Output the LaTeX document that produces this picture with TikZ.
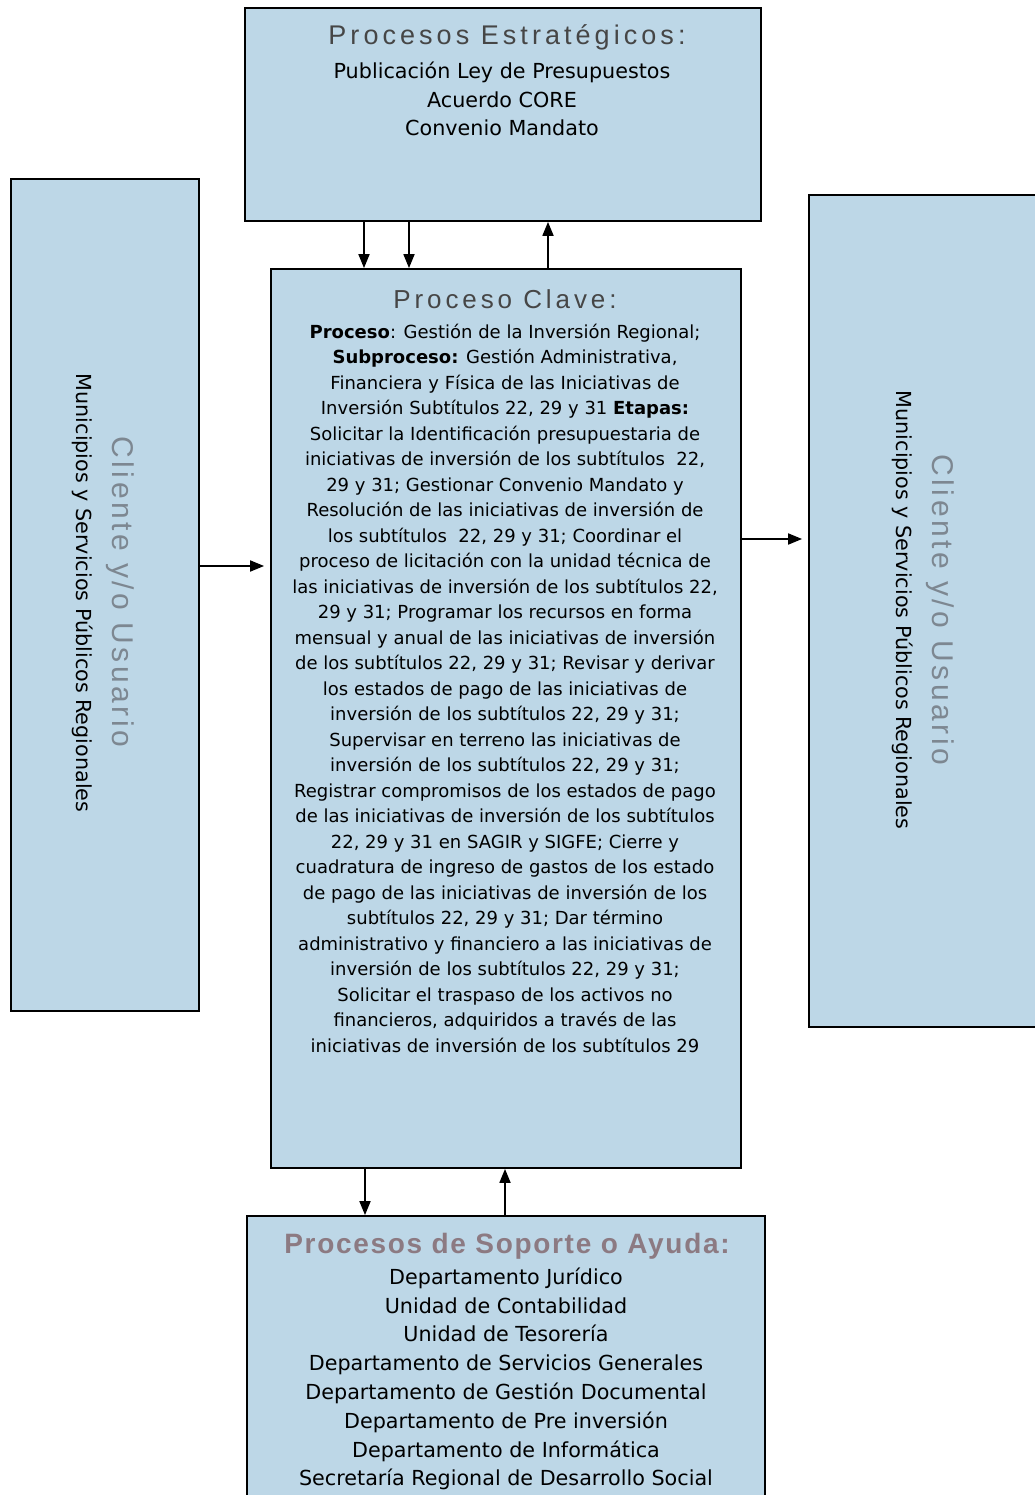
\documentclass[tikz,border=0pt]{standalone}
\usepackage{fontspec}
\setmainfont{DejaVu Sans}
\newfontfamily\titulofont[LetterSpace=15]{Liberation Sans}
\newfontfamily\clientefont[LetterSpace=12]{Liberation Sans}
\newfontfamily\soportefont[LetterSpace=6]{Liberation Sans}
\usetikzlibrary{arrows.meta}

\definecolor{cajaazul}{RGB}{189,215,231}
\definecolor{grisTitulo}{RGB}{70,70,70}
\definecolor{grisCliente}{RGB}{125,135,145}
\definecolor{malvaSoporte}{RGB}{140,122,130}

\newcommand{\letraCuerpo}{\fontsize{18pt}{25.5pt}\selectfont}
\newcommand{\letraGrande}{\fontsize{20.7pt}{28.8pt}\selectfont}

\tikzset{
  caja/.style={draw=black, line width=1.8pt, fill=cajaazul, inner sep=0pt},
  flecha/.style={line width=1.8pt, -{Triangle[length=14pt,width=11pt]}},
  titulo/.style={font=\titulofont\fontsize{27pt}{30pt}\selectfont, text=grisTitulo},
  cliente/.style={font=\clientefont\fontsize{30pt}{33pt}\selectfont, text=grisCliente, rotate=-90},
  usuario/.style={font=\letraGrande, rotate=-90},
}

\begin{document}
\begin{tikzpicture}[x=1pt, y=-1pt]
    \clip (0,0) rectangle (1035,1495);
    \fill[white] (0,0) rectangle (1035,1495);

    % cajas
    \node[caja, minimum width=516pt, minimum height=213pt] (estrat) at (503,114.5) {};
    \node[caja, minimum width=188pt, minimum height=832pt] (cliIzq) at (105,595) {};
    \node[caja, minimum width=470pt, minimum height=899pt] (clave) at (506,718.5) {};
    \node[caja, minimum width=236pt, minimum height=832pt] (cliDer) at (927,611) {};
    \node[caja, minimum width=518pt, minimum height=304pt] (soporte) at (506,1368) {};

    % procesos estrategicos
    \node[titulo] (estratTit) at (507,37) {Procesos Estratégicos:};
    \node[font=\letraGrande, align=center] (estratTxt) at (502,99)
        {Publicación Ley de Presupuestos\\Acuerdo CORE\\Convenio Mandato};

    % proceso clave
    \node[titulo, font=\titulofont\fontsize{26pt}{30pt}\selectfont] (claveTit) at (505,299) {Proceso Clave:};
    \node[font=\letraCuerpo, align=center] (claveTxt) at (505,688) {%
        \textbf{Proceso}: Gestión de la Inversión Regional;\\
        \textbf{Subproceso:} Gestión Administrativa,\\
        Financiera y Física de las Iniciativas de\\
        Inversión Subtítulos 22, 29 y 31 \textbf{Etapas:}\\
        Solicitar la Identificación presupuestaria de\\
        iniciativas de inversión de los subtítulos\ \ 22,\\
        29 y 31; Gestionar Convenio Mandato y\\
        Resolución de las iniciativas de inversión de\\
        los subtítulos\ \ 22, 29 y 31; Coordinar el\\
        proceso de licitación con la unidad técnica de\\
        las iniciativas de inversión de los subtítulos 22,\\
        29 y 31; Programar los recursos en forma\\
        mensual y anual de las iniciativas de inversión\\
        de los subtítulos 22, 29 y 31; Revisar y derivar\\
        los estados de pago de las iniciativas de\\
        inversión de los subtítulos 22, 29 y 31;\\
        Supervisar en terreno las iniciativas de\\
        inversión de los subtítulos 22, 29 y 31;\\
        Registrar compromisos de los estados de pago\\
        de las iniciativas de inversión de los subtítulos\\
        22, 29 y 31 en SAGIR y SIGFE; Cierre y\\
        cuadratura de ingreso de gastos de los estado\\
        de pago de las iniciativas de inversión de los\\
        subtítulos 22, 29 y 31; Dar término\\
        administrativo y financiero a las iniciativas de\\
        inversión de los subtítulos 22, 29 y 31;\\
        Solicitar el traspaso de los activos no\\
        financieros, adquiridos a través de las\\
        iniciativas de inversión de los subtítulos 29};

    % clientes
    \node[cliente] (cliIzqTit) at (120,592) {Cliente y/o Usuario};
    \node[usuario] (cliIzqTxt) at (83,593) {Municipios y Servicios Públicos Regionales};
    \node[cliente] (cliDerTit) at (940,610) {Cliente y/o Usuario};
    \node[usuario] (cliDerTxt) at (903,610) {Municipios y Servicios Públicos Regionales};

    % soporte
    \node[font=\soportefont\bfseries\fontsize{28pt}{30pt}\selectfont, text=malvaSoporte]
        (soporteTit) at (507,1246) {Procesos de Soporte o Ayuda:};
    \node[font=\letraGrande, align=center] (soporteTxt) at (506,1379)
        {Departamento Jurídico\\Unidad de Contabilidad\\Unidad de Tesorería\\
         Departamento de Servicios Generales\\Departamento de Gestión Documental\\
         Departamento de Pre inversión\\Departamento de Informática\\
         Secretaría Regional de Desarrollo Social};

    % flechas
    \draw[flecha] (364,0 |- estrat.south) -- (364,0 |- clave.north);
    \draw[flecha] (409,0 |- estrat.south) -- (409,0 |- clave.north);
    \draw[flecha] (548,0 |- clave.north) -- (548,0 |- estrat.south);
    \draw[flecha, shorten >=6pt] (cliIzq.east |- 0,566) -- (clave.west |- 0,566);
    \draw[flecha, shorten >=6pt] (clave.east |- 0,539) -- (cliDer.west |- 0,539);
    \draw[flecha] (365,0 |- clave.south) -- (365,0 |- soporte.north);
    \draw[flecha] (505,0 |- soporte.north) -- (505,0 |- clave.south);
\end{tikzpicture}
\end{document}
